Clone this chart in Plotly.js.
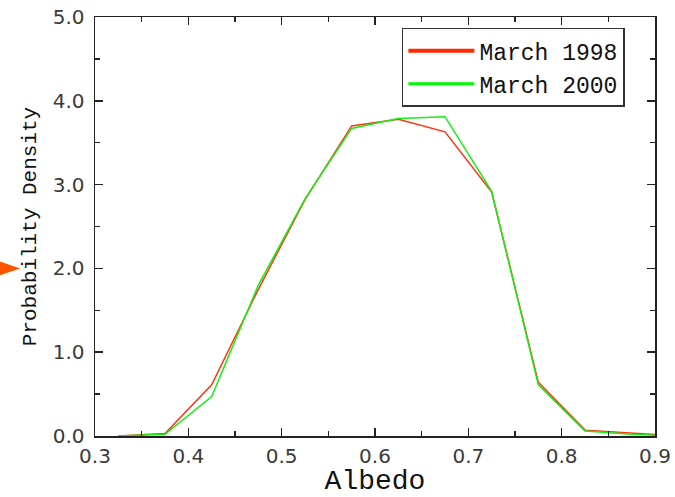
<!DOCTYPE html>
<html>
<head>
<meta charset="utf-8">
<script src="https://cdn.plot.ly/plotly-3.0.1.min.js"></script>
<style>
  html, body { margin: 0; padding: 0; background: #fff; }
  #chart { width: 675px; height: 497px; }
</style>
</head>
<body>
<div id="chart"></div>
<script>
// Albedo bin centres
const albedo = [0.325, 0.375, 0.425, 0.475, 0.525, 0.575, 0.625, 0.675, 0.725, 0.775, 0.825, 0.875, 0.925];
// Probability density, March 1998
const march1998 = [0.00, 0.03, 0.61, 1.75, 2.82, 3.70, 3.78, 3.63, 2.91, 0.64, 0.07, 0.03, 0.00];
// Probability density, March 2000
const march2000 = [0.00, 0.02, 0.47, 1.80, 2.83, 3.67, 3.79, 3.81, 2.92, 0.61, 0.06, 0.02, 0.00];
const seriesNames = ['March 1998', 'March 2000'];
const xTickVals = [0.3, 0.4, 0.5, 0.6, 0.7, 0.8, 0.9];
const yTickVals = [0, 1, 2, 3, 4, 5];

const RED = 'rgb(255,50,20)';
const GREEN = 'rgb(20,240,20)';
const monoFont = '"Liberation Mono", "Courier New", monospace';
const tickFont = { family: '"DejaVu Sans", sans-serif', size: 20, color: '#3a3a3a' };

const traces = [
  { x: albedo, y: march1998, type: 'scatter', mode: 'lines', name: seriesNames[0],
    line: { color: RED, width: 1.5 }, showlegend: false, hoverinfo: 'skip' },
  { x: albedo, y: march2000, type: 'scatter', mode: 'lines', name: seriesNames[1],
    line: { color: GREEN, width: 1.5 }, showlegend: false, hoverinfo: 'skip' },
  // legend entries (thicker sample lines, as in the original)
  { x: [null], y: [null], type: 'scatter', mode: 'lines', name: seriesNames[0],
    line: { color: 'rgb(255,40,0)', width: 4 } },
  { x: [null], y: [null], type: 'scatter', mode: 'lines', name: seriesNames[1],
    line: { color: 'rgb(0,250,0)', width: 3 } }
];

const axisCommon = {
  showgrid: false, zeroline: false, showline: true, linecolor: '#222', linewidth: 1.5,
  mirror: 'allticks', ticks: 'inside', ticklen: 8, tickwidth: 1.5, tickcolor: '#222',
  tickfont: tickFont, tickformat: '.1f'
};

const layout = {
  width: 675, height: 497,
  margin: { l: 95, r: 20, t: 17, b: 61 },
  paper_bgcolor: '#fff', plot_bgcolor: '#fff',
  xaxis: Object.assign({}, axisCommon, {
    range: [0.3, 0.9], tickvals: xTickVals, ticklabelstandoff: 1,
    minor: { dtick: 0.05, tick0: 0.3, ticks: 'inside', ticklen: 5, tickwidth: 1.5, tickcolor: '#222' },
    title: { text: 'Albedo', font: { family: monoFont, size: 28, color: '#111' }, standoff: 9 }
  }),
  yaxis: Object.assign({}, axisCommon, {
    range: [0, 5], tickvals: yTickVals, ticklabelstandoff: 5,
    minor: { dtick: 0.5, tick0: 0, ticks: 'inside', ticklen: 5, tickwidth: 1.5, tickcolor: '#222' },
    title: { text: 'Probability Density', font: { family: monoFont, size: 21, color: '#111' }, standoff: 10 }
  }),
  legend: {
    x: 0.548, y: 0.974, xanchor: 'left', yanchor: 'top',
    bgcolor: '#fff', bordercolor: '#333', borderwidth: 1.5,
    font: { family: monoFont, size: 23, color: '#111' },
    itemwidth: 66, tracegroupgap: 0
  },
  shapes: [
    { type: 'path', xref: 'paper', yref: 'y',
      path: 'M -0.19 2.13 L -0.1339 2.0 L -0.19 1.87 Z',
      fillcolor: 'rgb(255,85,0)', line: { width: 0 } }
  ]
};

Plotly.newPlot('chart', traces, layout, { displayModeBar: false, staticPlot: true });
</script>
</body>
</html>
